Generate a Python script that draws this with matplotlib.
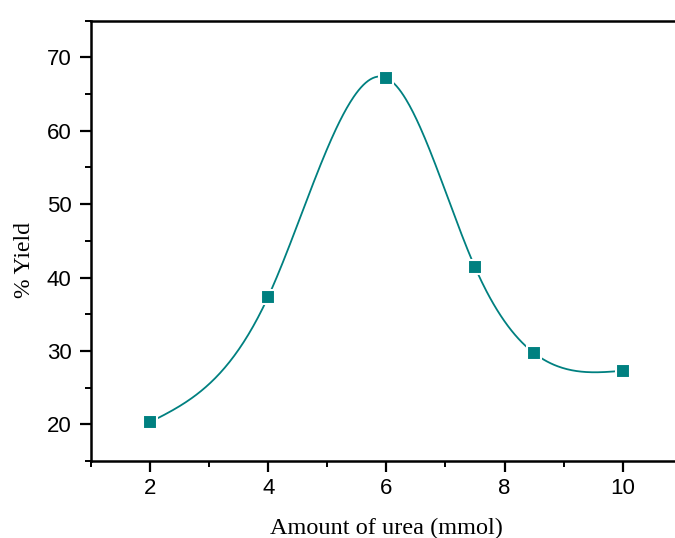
import numpy as np
import matplotlib
matplotlib.use("Agg")
import matplotlib.pyplot as plt
from matplotlib.ticker import MultipleLocator

urea_mmol = [2, 4, 6, 7.5, 8.5, 10]
yield_pct = [20.3, 37.4, 67.2, 41.4, 29.7, 27.3]
x_ticks = [2, 4, 6, 8, 10]
y_ticks = [20, 30, 40, 50, 60, 70]


def natural_spline(x, y, xs):
    x = np.asarray(x, float); y = np.asarray(y, float)
    n = len(x)
    h = np.diff(x)
    A = np.zeros((n, n)); b = np.zeros(n)
    A[0, 0] = 1; A[-1, -1] = 1
    for i in range(1, n - 1):
        A[i, i - 1] = h[i - 1]
        A[i, i] = 2 * (h[i - 1] + h[i])
        A[i, i + 1] = h[i]
        b[i] = 6 * ((y[i + 1] - y[i]) / h[i] - (y[i] - y[i - 1]) / h[i - 1])
    M = np.linalg.solve(A, b)
    out = np.empty_like(xs)
    for k, t in enumerate(xs):
        i = min(max(np.searchsorted(x, t) - 1, 0), n - 2)
        a = x[i + 1] - t; c = t - x[i]
        out[k] = (M[i] * a**3 + M[i + 1] * c**3) / (6 * h[i]) \
            + (y[i] / h[i] - M[i] * h[i] / 6) * a \
            + (y[i + 1] / h[i] - M[i + 1] * h[i] / 6) * c
    return out


fig = plt.figure(figsize=(6.75, 5.38), dpi=100)
ax = fig.add_axes([91 / 675, 77 / 538, 590.8 / 675, 440.3 / 538])

xs = np.linspace(urea_mmol[0], urea_mmol[-1], 400)
teal = "#008080"
ax.plot(xs, natural_spline(urea_mmol, yield_pct, xs), color=teal, lw=1.3, zorder=2)
ax.plot(urea_mmol, yield_pct, "s", color=teal, ms=9.5, mec="white", mew=1.5, zorder=3)

ax.set_xlim(1, 11)
ax.set_ylim(15, 75)
ax.set_xticks(x_ticks)
ax.set_yticks(y_ticks)
ax.xaxis.set_minor_locator(MultipleLocator(1))
ax.yaxis.set_minor_locator(MultipleLocator(5))
ax.spines["right"].set_visible(False)
for s in ["left", "bottom", "top"]:
    ax.spines[s].set_linewidth(1.8)
ax.tick_params(which="major", direction="out", length=8, width=1.6, labelsize=16)
ax.tick_params(axis="x", which="major", pad=4)
ax.tick_params(axis="y", which="major", pad=6)
ax.tick_params(which="minor", direction="out", length=4.5, width=1.4)
for lab in ax.get_xticklabels() + ax.get_yticklabels():
    lab.set_fontfamily("Liberation Sans")

ax.set_xlabel("Amount of urea (mmol)", fontfamily="Liberation Serif", fontsize=17.5, va="baseline")
ax.xaxis.set_label_coords(0.4993, -73.5 / 440.3)
ax.set_ylabel("% Yield", fontfamily="Liberation Serif", fontsize=17, va="center")
ax.yaxis.set_label_coords(-66 / 590.8, (461 - 259.5) / 440.3)

fig.savefig("out.png", dpi=100)
